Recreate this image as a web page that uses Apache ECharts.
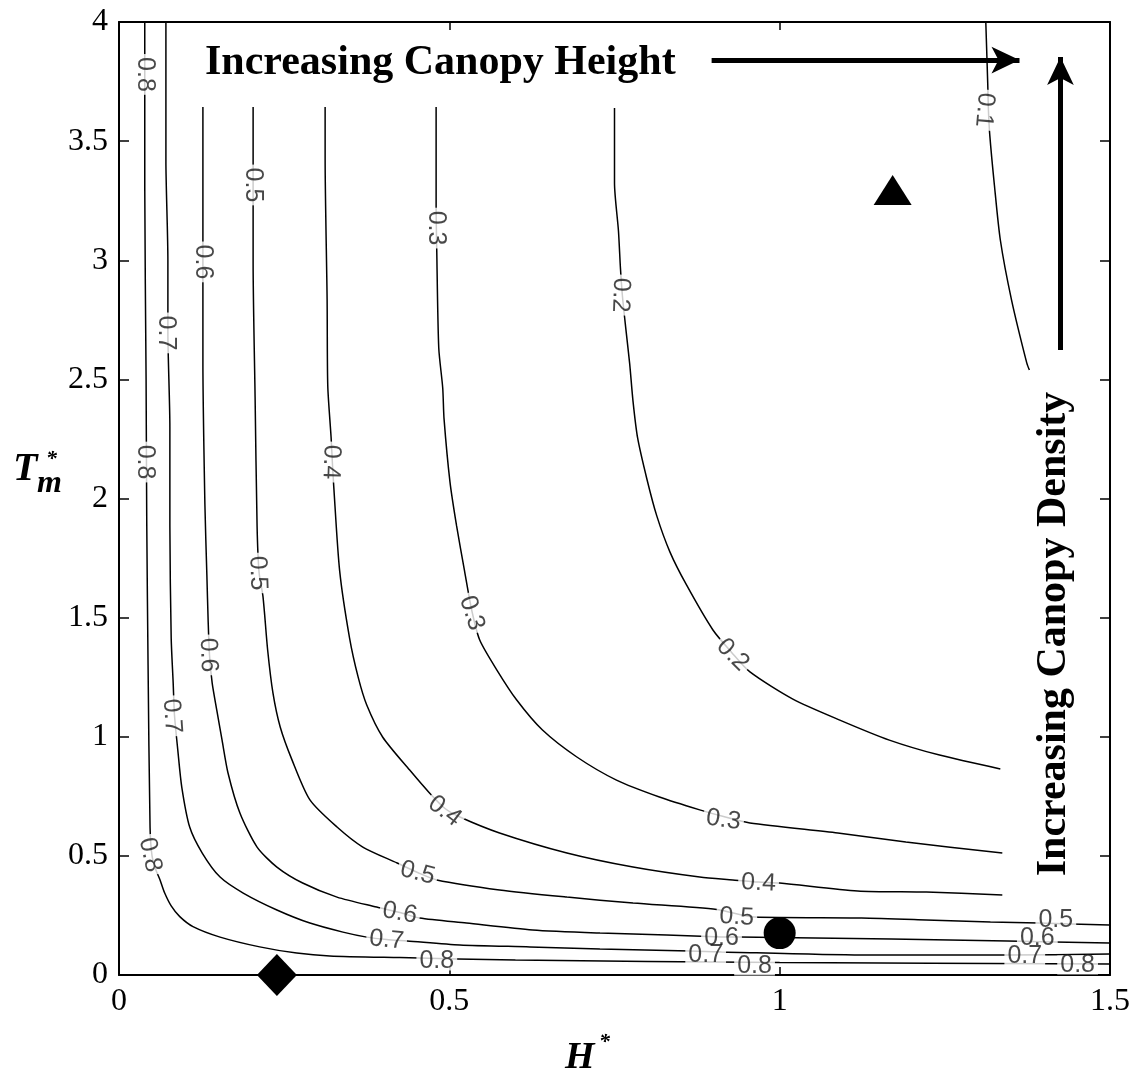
<!DOCTYPE html>
<html><head><meta charset="utf-8">
<script src="https://cdn.jsdelivr.net/npm/echarts@6/dist/echarts.min.js"></script>
<style>html,body{margin:0;padding:0;background:#fff}#c{width:1133px;height:1083px}</style>
</head><body><div id="c"></div>
<script>
// ---- data ----
const xTicks = [0, 0.5, 1, 1.5];
const yTicks = [0, 0.5, 1, 1.5, 2, 2.5, 3, 3.5, 4];
const levels = ['0.1', '0.2', '0.3', '0.4', '0.5', '0.6', '0.7', '0.8'];

const c01 = [[1.312,4.0],[1.315,3.736],[1.316,3.63],[1.318,3.526],[1.325,3.316],[1.334,3.085],[1.351,2.833],[1.374,2.569],[1.378,2.539]];
const c02 = [[0.750,3.639],[0.750,3.324],[0.756,3.123],[0.759,2.967],[0.762,2.85],[0.767,2.716],[0.773,2.565],[0.778,2.409],[0.785,2.254],[0.799,2.082],[0.814,1.927],[0.834,1.775],[0.859,1.637],[0.899,1.448],[0.927,1.355],[0.955,1.272],[1.020,1.158],[1.091,1.070],[1.166,0.986],[1.242,0.923],[1.334,0.865]];
const c03 = [[0.480,3.643],[0.480,3.232],[0.481,3.035],[0.484,2.632],[0.490,2.464],[0.492,2.334],[0.501,2.069],[0.511,1.885],[0.523,1.696],[0.534,1.530],[0.546,1.406],[0.572,1.280],[0.602,1.154],[0.641,1.028],[0.693,0.915],[0.753,0.818],[0.818,0.747],[0.879,0.693],[0.915,0.665],[0.955,0.638],[1.088,0.596],[1.191,0.558],[1.337,0.512]];
const c04 = [[0.312,3.643],[0.312,3.429],[0.315,2.837],[0.316,2.472],[0.321,2.258],[0.323,2.15],[0.325,2.052],[0.334,1.696],[0.349,1.414],[0.362,1.250],[0.375,1.133],[0.399,0.999],[0.440,0.860],[0.470,0.764],[0.493,0.700],[0.516,0.663],[0.576,0.596],[0.678,0.512],[0.778,0.453],[0.879,0.411],[0.929,0.399],[0.968,0.390],[1.0,0.386],[1.118,0.353],[1.222,0.348],[1.337,0.336]];
const c05 = [[0.203,3.643],[0.203,3.316],[0.203,2.988],[0.206,2.426],[0.209,1.885],[0.212,1.69],[0.218,1.587],[0.225,1.364],[0.233,1.184],[0.244,1.041],[0.262,0.902],[0.289,0.735],[0.330,0.621],[0.369,0.537],[0.421,0.470],[0.452,0.430],[0.481,0.399],[0.576,0.357],[0.678,0.327],[0.778,0.302],[0.905,0.275],[0.962,0.243],[1.124,0.239],[1.222,0.231],[1.319,0.222],[1.392,0.218],[1.499,0.210]];
const c06 = [[0.127,3.643],[0.127,2.993],[0.127,2.577],[0.130,1.977],[0.133,1.679],[0.135,1.482],[0.137,1.343],[0.141,1.226],[0.148,1.112],[0.156,0.986],[0.165,0.848],[0.183,0.680],[0.209,0.537],[0.239,0.453],[0.278,0.386],[0.330,0.327],[0.390,0.285],[0.425,0.262],[0.455,0.239],[0.526,0.218],[0.626,0.189],[0.728,0.176],[0.829,0.168],[0.912,0.160],[0.938,0.159],[1.169,0.151],[1.345,0.143],[1.499,0.134]];
const c07 = [[0.071,4.0],[0.071,3.42],[0.074,3.0],[0.074,2.70],[0.077,2.3],[0.077,1.885],[0.079,1.414],[0.082,1.226],[0.084,1.09],[0.089,0.944],[0.095,0.789],[0.107,0.621],[0.126,0.512],[0.153,0.411],[0.188,0.344],[0.239,0.273],[0.289,0.218],[0.339,0.180],[0.375,0.159],[0.405,0.149],[0.436,0.143],[0.516,0.126],[0.622,0.118],[0.728,0.109],[0.864,0.101],[0.912,0.097],[1.124,0.084],[1.345,0.084],[1.499,0.088]];
const c08 = [[0.039,4.0],[0.039,3.3],[0.041,2.5],[0.042,1.9],[0.044,1.3],[0.047,0.62],[0.050,0.50],[0.056,0.44],[0.062,0.400],[0.069,0.345],[0.079,0.290],[0.092,0.245],[0.112,0.203],[0.153,0.159],[0.213,0.118],[0.269,0.092],[0.319,0.080],[0.425,0.073],[0.600,0.063],[1.0,0.052],[1.499,0.046]];

// contour label anchors [x, y] and their text angle
const lab01 = [[1.310,3.631]];
const lab02 = [[0.759,2.854],[0.929,1.343]];
const lab03 = [[0.480,3.135],[0.534,1.519],[0.915,0.651]];
const lab04 = [[0.321,2.153],[0.493,0.688],[0.968,0.386]];
const lab05 = [[0.203,3.316],[0.210,1.687],[0.452,0.428],[0.935,0.243],[1.418,0.231]];
const lab06 = [[0.127,2.993],[0.135,1.343],[0.425,0.260],[0.912,0.155],[1.390,0.155]];
const lab07 = [[0.071,2.695],[0.080,1.087],[0.405,0.147],[0.888,0.084],[1.371,0.078]];
const lab08 = [[0.039,3.78],[0.039,2.153],[0.047,0.504],[0.481,0.059],[0.962,0.038],[1.451,0.042]];
const ang01 = [-95];
const ang02 = [-92,-45];
const ang03 = [-90,-72,-8];
const ang04 = [-92,-37,-3];
const ang05 = [-90,-88,-15,-3,0];
const ang06 = [-90,-88,-10,0,0];
const ang07 = [-90,-86,-5,0,0];
const ang08 = [-90,-90,-77,0,0,0];

const markerDiamond = [0.239, 0];
const markerCircle = [1.0, 0.176];
const markerTriangle = [1.171, 3.295];

const arrowHeight = [[0.897, 3.840], [1.363, 3.840]];
const arrowDensity = [[1.425, 2.623], [1.425, 3.853]];

// ---- chart ----
const curves = [c01,c02,c03,c04,c05,c06,c07,c08];
const labs = [lab01,lab02,lab03,lab04,lab05,lab06,lab07,lab08];
const angs = [ang01,ang02,ang03,ang04,ang05,ang06,ang07,ang08];

const chart = echarts.init(document.getElementById('c'), null, {renderer: 'canvas'});
const serif = '"Liberation Serif","Times New Roman",serif';
const series = [];
curves.forEach((d, i) => {
  series.push({
    type: 'line', name: 'c' + levels[i], data: d, showSymbol: false, smooth: 0.25,
    lineStyle: {color: '#000', width: 1.5, opacity: 1}, silent: true, z: 2, clip: true
  });
});
labs.forEach((d, i) => {
  series.push({
    type: 'scatter', symbolSize: 0, silent: true, z: 3,
    data: d.map((p, j) => ({value: p, label: {rotate: angs[i][j]}})),
    label: {
      show: true, position: 'inside', formatter: levels[i],
      fontFamily: '"Liberation Sans",Arial,sans-serif', fontSize: 25, color: '#1a1a1a',
      backgroundColor: '#fff', padding: [0, 3], lineHeight: 19
    }
  });
});
series.push({
  type: 'scatter', silent: true, z: 5, clip: false,
  itemStyle: {color: '#000', opacity: 1},
  data: [
    {value: markerDiamond, symbol: 'diamond', symbolSize: [40, 42]},
    {value: markerCircle, symbol: 'circle', symbolSize: 32},
    {value: markerTriangle, symbol: 'triangle', symbolSize: [38, 30]}
  ]
});
series.push({
  type: 'line', data: [], silent: true, z: 6,
  markLine: {
    silent: true, animation: false,
    symbol: ['none', 'arrow'], symbolSize: [20, 28],
    label: {show: false},
    lineStyle: {color: '#000', width: 5, type: 'solid', opacity: 1},
    data: [
      [{coord: arrowHeight[0]}, {coord: arrowHeight[1]}],
      [{coord: arrowDensity[0]}, {coord: arrowDensity[1]}]
    ]
  }
});

const axisCommon = {
  type: 'value', min: 0,
  axisLine: {show: true, onZero: false, lineStyle: {color: '#000', width: 2}},
  splitLine: {show: false}
};
chart.setOption({
  animation: false,
  backgroundColor: '#fff',
  grid: {left: 119, right: 23, top: 22, bottom: 108, containLabel: false},
  xAxis: [
    Object.assign({}, axisCommon, {position: 'bottom', max: 1.5, interval: 0.5,
      axisTick: {show: true, inside: true, length: 8, lineStyle: {color: '#000', width: 1.5}},
      axisLabel: {show: true, margin: 11, fontFamily: serif, fontSize: 32, color: '#000',
        formatter: v => (xTicks.indexOf(v) >= 0 ? String(v) : '')}}),
    Object.assign({}, axisCommon, {position: 'top', max: 1.5, interval: 0.5,
      axisTick: {show: true, inside: true, length: 8, lineStyle: {color: '#000', width: 1.5}},
      axisLabel: {show: false}})
  ],
  yAxis: [
    Object.assign({}, axisCommon, {position: 'left', max: 4, interval: 0.5,
      axisTick: {show: true, inside: true, length: 10, lineStyle: {color: '#000', width: 1.5}},
      axisLabel: {show: true, margin: 11, fontFamily: serif, fontSize: 32, color: '#000',
        formatter: v => (yTicks.indexOf(v) >= 0 ? String(v) : '')}}),
    Object.assign({}, axisCommon, {position: 'right', max: 4, interval: 0.5,
      axisTick: {show: true, inside: true, length: 10, lineStyle: {color: '#000', width: 1.5}},
      axisLabel: {show: false}})
  ],
  series: series,
  graphic: [
    {type: 'text', x: 205, y: 63, z: 10, style: {text: 'Increasing Canopy Height',
      font: 'bold 42px ' + serif, fill: '#000', textAlign: 'left', textVerticalAlign: 'middle'}},
    {type: 'text', x: 1054, y: 634, rotation: Math.PI / 2, z: 10, style: {text: 'Increasing Canopy Density',
      font: 'bold 42px ' + serif, fill: '#000', textAlign: 'center', textVerticalAlign: 'middle'}},
    {type: 'text', x: 13, y: 470, z: 10, style: {text: 'T', font: 'italic bold 40px ' + serif, fill: '#000',
      textAlign: 'left', textVerticalAlign: 'middle'}},
    {type: 'text', x: 46, y: 459, z: 10, style: {text: '*', font: 'italic bold 22px ' + serif, fill: '#000',
      textAlign: 'left', textVerticalAlign: 'middle'}},
    {type: 'text', x: 37, y: 484, z: 10, style: {text: 'm', font: 'italic bold 32px ' + serif, fill: '#000',
      textAlign: 'left', textVerticalAlign: 'middle'}},
    {type: 'text', x: 565, y: 1058, z: 10, style: {text: 'H', font: 'italic bold 38px ' + serif, fill: '#000',
      textAlign: 'left', textVerticalAlign: 'middle'}},
    {type: 'text', x: 599, y: 1042, z: 10, style: {text: '*', font: 'italic bold 22px ' + serif, fill: '#000',
      textAlign: 'left', textVerticalAlign: 'middle'}}
  ]
});
</script>
</body></html>
